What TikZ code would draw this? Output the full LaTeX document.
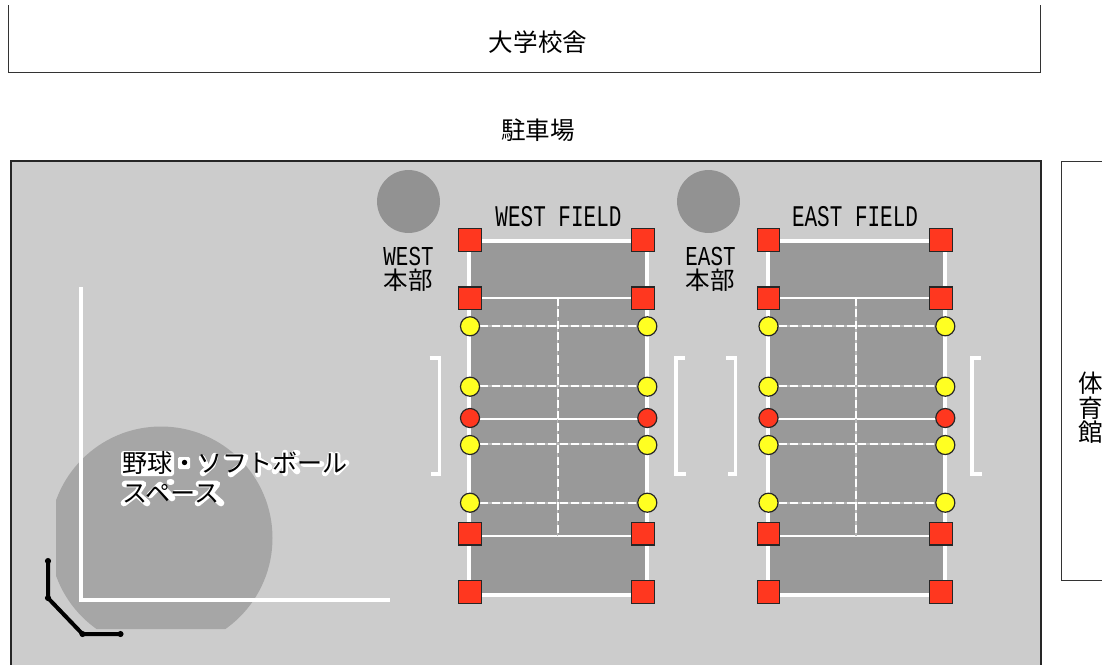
\documentclass[tikz,border=0pt]{standalone}
\usepackage{fontspec}
\setmainfont{Liberation Sans}
\newfontfamily\cjk{Noto Sans CJK JP}
\newfontfamily\latinfont[FakeStretch=0.7]{Liberation Mono}
\newfontfamily\latinsmall[FakeStretch=0.764]{Liberation Mono}
\definecolor{ground}{HTML}{CCCCCC}
\definecolor{court}{HTML}{999999}
\definecolor{hq}{HTML}{929292}
\definecolor{diamond}{HTML}{A6A6A6}
\definecolor{post}{HTML}{FF371F}
\definecolor{lamp}{HTML}{FFFF22}
\definecolor{edge}{HTML}{333333}
\newcommand{\lat}[1]{{\fontsize{22.5pt}{22.5pt}\selectfont\latinfont #1}}
\newcommand{\lats}[1]{{\fontsize{20.5pt}{20.5pt}\selectfont\latinsmall #1}}
\tikzset{
  x=0.75pt,y=-0.75pt,
  lbl/.style={inner sep=0pt,font=\fontsize{18.4pt}{18.4pt}\selectfont\cjk,text=black},
  hlbl/.style={inner sep=0pt,font=\fontsize{18.8pt}{18.8pt}\selectfont\cjk,text=black},
  stacked/.style={lbl,align=center},
  outline/.style={draw=edge,line width=0.75pt},
  squarepost/.style={draw=black!85,line width=0.9pt,fill=post,minimum size=17pt,inner sep=0pt,shape=rectangle},
  lampyellow/.style={draw=black!85,line width=0.9pt,fill=lamp,minimum size=14.3pt,inner sep=0pt,shape=circle},
  lampred/.style={lampyellow,fill=post},
  rail/.style={draw=white,line width=3pt},
  thinline/.style={draw=white,line width=1.5pt},
  bracketline/.style={draw=white,line width=2.8pt,line cap=butt,line join=miter},
  blackline/.style={draw=black,line width=3pt,line join=round},
  blackdot/.style={fill=black,circle,minimum size=4.6pt,inner sep=0pt},
  halostroke/.style={draw=white,line width=5pt,line cap=round,line join=round},
}
\newcommand{\dashedpair}[2]{%
  \draw[draw=white!72!black,line width=1.3pt] (#1) -- (#2);
  \draw[draw=white,line width=1.5pt,dash pattern=on 6pt off 2.5pt] (#1) -- (#2);
}
% #1 prefix, #2 rail L, #3 rail R, #4 square R, #5 lamp R, #6 mid
\newcommand{\field}[6]{
  \fill[court] (#2,241) rectangle (#3,594);
  \foreach \n/\yy in {a/241,b/298,c/326,d/386,e/419,f/444,g/503,h/535.5,i/594.5}{
    \coordinate (#1L\n) at (#2,\yy);
    \coordinate (#1R\n) at (#3,\yy);
  }
  \coordinate (#1Mb) at (#6,298);
  \coordinate (#1Mh) at (#6,535.5);
  \draw[rail,line join=miter] (#1La) -- (#1Ra) -- (#1Ri) -- (#1Li) -- cycle;
  \foreach \n in {b,e,h}{\draw[thinline] (#1L\n) -- (#1R\n);}
  \foreach \n in {c,d,f,g}{\dashedpair{#1L\n}{#1R\n}}
  \dashedpair{#1Mb}{#1Mh}
  \foreach \yy/\k in {240/a,298.3/b,533.7/c,592/d}{
    \node[squarepost] (#1SL\k) at (#2+1,\yy) {};
    \node[squarepost] (#1SR\k) at (#4,\yy) {};
  }
  \foreach \yy/\k in {326.3/a,386.7/b,445/d,502.7/e}{
    \node[lampyellow] (#1CL\k) at (#2+1,\yy) {};
    \node[lampyellow] (#1CR\k) at (#5,\yy) {};
  }
  \node[lampred] (#1CLc) at (#2+1,418) {};
  \node[lampred] (#1CRc) at (#5,418) {};
}
\begin{document}
\begin{tikzpicture}
\useasboundingbox (0,0) rectangle (1102,664);
\clip (0,0) rectangle (1102,664);
\fill[white] (0,0) rectangle (1102,664);
% university building
\coordinate (b1) at (8.5,5);
\coordinate (b2) at (8.5,72);
\coordinate (b3) at (1040.5,72);
\coordinate (b4) at (1040.5,5);
\draw[outline] (b1) -- (b2) -- (b3) -- (b4);
\node[lbl] (univ) at (538,42.5) {大学校舎};
\node[lbl] (park) at (538,130) {駐車場};
% gym
\coordinate (g1) at (1102,161.5);
\coordinate (g2) at (1061.5,161.5);
\coordinate (g3) at (1061.5,580.5);
\coordinate (g4) at (1102,580.5);
\draw[outline] (g1) -- (g2) -- (g3) -- (g4);
\node[stacked] (gym) at (1090.5,408) {体\\[0pt]育\\[0pt]館};
% ground
\draw[draw=black!85,line width=1.5pt,fill=ground] (10.5,680) -- (10.5,160.5) -- (1040.5,160.5) -- (1040.5,680);
% baseball space
\begin{scope}
\clip (56,400) -- (56,597) -- (90,629) -- (300,629) -- (300,400) -- cycle;
\fill[diamond] (161,538) circle (111.5);
\end{scope}
\coordinate (w1) at (80.5,287);
\coordinate (w2) at (80.5,599.5);
\coordinate (w3) at (389.5,599.5);
\draw[rail,line join=miter] (w1) -- (w2) -- (w3);
\node[blackdot] (k1) at (48,561) {};
\node[blackdot] (k2) at (48,598) {};
\node[blackdot] (k3) at (82.5,634) {};
\node[blackdot] (k4) at (120.5,634) {};
\draw[blackline] (k1.center) -- (k2.center) -- (k3.center) -- (k4.center);
% white halo behind the baseball label
\fill[white,rounded corners=2pt] (121,451) rectangle (174,476);
\fill[white,rounded corners=1pt] (178,457) rectangle (190,469);
\draw[halostroke] (202,458) -- (205,464);
\draw[halostroke] (215,456) -- (212,465) -- (203,473);
\draw[halostroke] (227,457) -- (245,457) -- (242,465) -- (231,474);
\draw[halostroke] (258,454) -- (258,474);
\draw[halostroke] (258,460) -- (269,467);
\draw[halostroke] (274,460) -- (296,460);
\draw[halostroke] (285,453) -- (285,473);
\draw[halostroke] (280,464) -- (275,471);
\draw[halostroke] (291,464) -- (297,471);
\draw[halostroke] (295,453) -- (297,453);
\draw[halostroke] (304,464) -- (321,464);
\draw[halostroke] (331,455) -- (330,465) -- (325,473);
\draw[halostroke] (337,455) -- (337,472) -- (346,463);
\draw[halostroke] (125,484) -- (143,484) -- (137,493) -- (124,503);
\draw[halostroke] (138,495) -- (147,503);
\draw[halostroke] (150,495) -- (160,485) -- (172,498);
\draw[halostroke] (170,482) -- (171,482);
\draw[halostroke] (175,493) -- (195,493);
\draw[halostroke] (199,484) -- (217,484) -- (210,493) -- (198,503);
\draw[halostroke] (212,495) -- (221,503);
\node[hlbl,anchor=west] (base1) at (122,463) {野球・ソフトボール};
\node[hlbl,anchor=west] (base2) at (122,494) {スペース};
% headquarters
\node[circle,fill=hq,minimum size=47.2pt,inner sep=0pt] (hqw) at (408.5,201.5) {};
\node[circle,fill=hq,minimum size=47.2pt,inner sep=0pt] (hqe) at (708.5,201.5) {};
\node[lbl,align=center] (hqwl) at (408.5,269.5) {\lats{WEST}\\[-0.8pt]本部};
\node[lbl,align=center] (hqel) at (710.5,269.5) {\lats{EAST}\\[-0.8pt]本部};
% fields
\field{W}{469}{646.5}{643}{647.3}{557.5}
\field{E}{767.5}{944.5}{941}{945.3}{855.7}
\node[inner sep=0pt] (wf) at (558.5,217) {\lat{WEST FIELD}};
\node[inner sep=0pt] (ef) at (855,217) {\lat{EAST FIELD}};
% brackets
\coordinate (p1) at (429.5,358); \coordinate (p2) at (439.5,358);
\coordinate (p3) at (439.5,474); \coordinate (p4) at (431,474);
\draw[bracketline] (p1) -- (p2) -- (p3) -- (p4);
\coordinate (q1) at (685,358); \coordinate (q2) at (676,358);
\coordinate (q3) at (676,474); \coordinate (q4) at (686,474);
\draw[bracketline] (q1) -- (q2) -- (q3) -- (q4);
\coordinate (r1) at (726,358); \coordinate (r2) at (735.5,358);
\coordinate (r3) at (735.5,474); \coordinate (r4) at (727.5,474);
\draw[bracketline] (r1) -- (r2) -- (r3) -- (r4);
\coordinate (s1) at (980.5,358); \coordinate (s2) at (972,358);
\coordinate (s3) at (972,474); \coordinate (s4) at (982,474);
\draw[bracketline] (s1) -- (s2) -- (s3) -- (s4);
\end{tikzpicture}
\end{document}
